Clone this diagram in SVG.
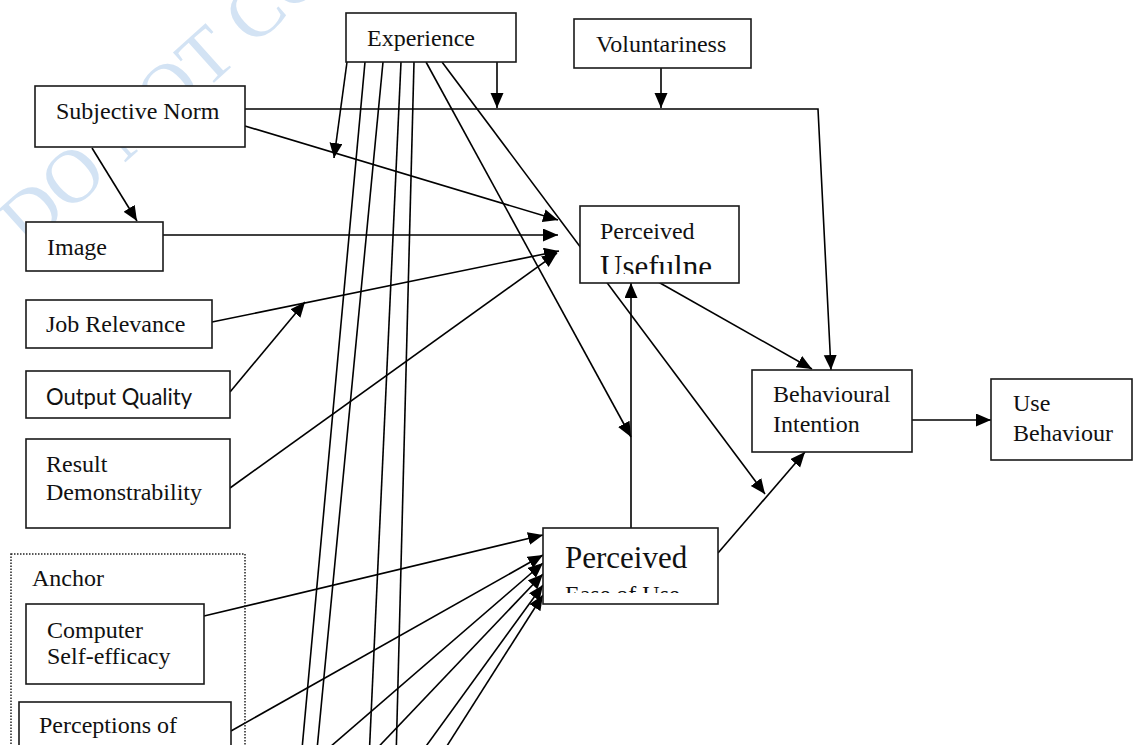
<svg xmlns="http://www.w3.org/2000/svg" width="1133" height="745" viewBox="0 0 1133 745">
<style>
.box{fill:#fff;stroke:#1a1a1a;stroke-width:1.6}
.t{font-family:"Liberation Serif","Times New Roman",serif;font-size:24px;fill:#111}
.big{font-size:31px}
.cal{font-family:Lato,"Liberation Sans",sans-serif;font-size:24px;fill:#111}
.c{fill:none;stroke:#000;stroke-width:1.6}
.wm{font-family:"Liberation Serif",serif;font-size:76px;fill:#d3e3f4}
</style>
<defs>
<marker id="ah" markerWidth="16" markerHeight="14" refX="15" refY="6.5" orient="auto" markerUnits="userSpaceOnUse"><path d="M0,0 L15,6.5 L0,13 z" fill="#000"/></marker>
<clipPath id="clipPU"><rect x="581" y="207" width="157" height="67"/></clipPath>
<clipPath id="clipPEOU"><rect x="544" y="529" width="173" height="64"/></clipPath>
</defs>
<rect width="1133" height="745" fill="#fff"/>
<text class="wm" transform="translate(28,250) rotate(-42)">DO NOT COPY</text>

<g id="connectors">
<path class="c" d="M92,148 L137,221" marker-end="url(#ah)"/>
<path class="c" d="M245,109 L818,109 L831,370" marker-end="url(#ah)"/>
<path class="c" d="M497,62 L497,108" marker-end="url(#ah)"/>
<path class="c" d="M661,68 L661,108" marker-end="url(#ah)"/>
<path class="c" d="M245,126 L558,220" marker-end="url(#ah)"/>
<path class="c" d="M347,62 L334,158" marker-end="url(#ah)"/>
<path class="c" d="M163,235 L558,235" marker-end="url(#ah)"/>
<path class="c" d="M212,322 L559,251" marker-end="url(#ah)"/>
<path class="c" d="M230,392 L305,302" marker-end="url(#ah)"/>
<path class="c" d="M230,488 L557,253" marker-end="url(#ah)"/>
<path class="c" d="M653,279 L812,369" marker-end="url(#ah)"/>
<path class="c" d="M631,528 L631,283" marker-end="url(#ah)"/>
<path class="c" d="M426,62 L631,437" marker-end="url(#ah)"/>
<path class="c" d="M442,62 L765,494" marker-end="url(#ah)"/>
<path class="c" d="M718,553 L805,452" marker-end="url(#ah)"/>
<path class="c" d="M912,420 L991,420" marker-end="url(#ah)"/>
<path class="c" d="M204,616 L543,535" marker-end="url(#ah)"/>
<path class="c" d="M231,731 L543,555" marker-end="url(#ah)"/>
<path class="c" d="M315,760 L543,563" marker-end="url(#ah)"/>
<path class="c" d="M366,760 L543,574" marker-end="url(#ah)"/>
<path class="c" d="M416,760 L543,585" marker-end="url(#ah)"/>
<path class="c" d="M438,760 L543,595" marker-end="url(#ah)"/>
<path class="c" d="M365,62 L301,760"/>
<path class="c" d="M383,62 L316,760"/>
<path class="c" d="M401,62 L369,760"/>
<path class="c" d="M414,62 L396,760"/>
</g>

<g id="experience"><rect class="box" x="346" y="13" width="170" height="49"/><text class="t" x="367" y="46">Experience</text></g>
<g id="voluntariness"><rect class="box" x="574" y="19" width="177" height="49"/><text class="t" x="596" y="52">Voluntariness</text></g>
<g id="subjective-norm"><rect class="box" x="35" y="86" width="210" height="61"/><text class="t" x="56" y="119">Subjective Norm</text></g>
<g id="image"><rect class="box" x="26" y="222" width="137" height="49"/><text class="t" x="47" y="255">Image</text></g>
<g id="job-relevance"><rect class="box" x="26" y="300" width="186" height="48"/><text class="t" x="46" y="332">Job Relevance</text></g>
<g id="output-quality"><rect class="box" x="26" y="371" width="204" height="47"/><text class="cal" x="46" y="405" textLength="146" lengthAdjust="spacingAndGlyphs">Output Quality</text></g>
<g id="result-demonstrability"><rect class="box" x="26" y="439" width="204" height="89"/><text class="t" x="46" y="472">Result</text><text class="t" x="46" y="500">Demonstrability</text></g>
<g id="anchor"><rect x="11" y="554" width="234" height="260" fill="none" stroke="#222" stroke-width="1.5" stroke-dasharray="1.5,1.5"/><text class="t" x="32" y="586">Anchor</text></g>
<g id="computer-self-efficacy"><rect class="box" x="26" y="604" width="178" height="80"/><text class="t" x="47" y="638">Computer</text><text class="t" x="47" y="664">Self-efficacy</text></g>
<g id="perceptions-of"><rect class="box" x="19" y="702" width="212" height="100"/><text class="t" x="39" y="733">Perceptions of</text></g>
<g id="perceived-usefulness"><rect class="box" x="580" y="206" width="159" height="77"/><g clip-path="url(#clipPU)"><text class="t" x="600" y="239">Perceived</text><text class="t big" x="600" y="277">Usefulne</text></g></g>
<g id="perceived-ease-of-use"><rect class="box" x="543" y="528" width="175" height="76"/><g clip-path="url(#clipPEOU)"><text class="t big" x="565" y="568">Perceived</text><text class="t" x="565" y="602">Ease of Use</text></g></g>
<g id="behavioural-intention"><rect class="box" x="752" y="370" width="160" height="82"/><text class="t" x="773" y="402">Behavioural</text><text class="t" x="773" y="432">Intention</text></g>
<g id="use-behaviour"><rect class="box" x="991" y="379" width="141" height="81"/><text class="t" x="1013" y="411">Use</text><text class="t" x="1013" y="441">Behaviour</text></g>
</svg>
